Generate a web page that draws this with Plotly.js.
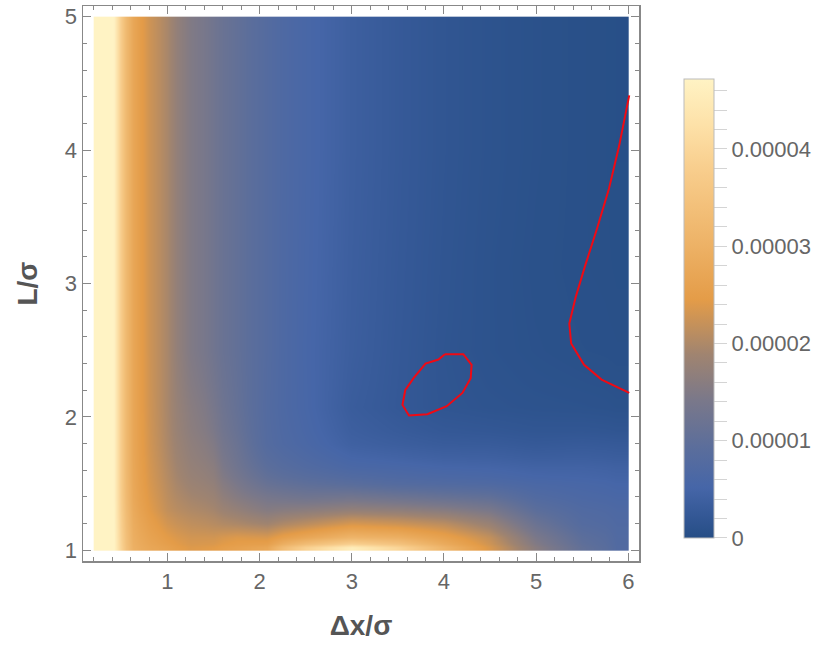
<!DOCTYPE html>
<html>
<head>
<meta charset="utf-8">
<script src="https://cdn.plot.ly/plotly-3.0.1.min.js"></script>
<style>
  html, body { margin: 0; padding: 0; background: #fff; }
  #graph { width: 830px; height: 658px; }
</style>
</head>
<body>
<div id="graph"></div>
<script>
// cell edges of the density map (Δx/σ and L/σ)
var xEdges = [0.2, 0.25, 0.35, 0.45, 0.55, 0.7, 0.9, 1.1, 1.4, 1.6, 1.9, 2.25, 2.75, 3.25, 3.75, 4.25, 4.75, 5.25, 5.75, 6.0];
var yEdges = [1.0, 1.05, 1.15, 1.25, 1.35, 1.45, 1.55, 1.7, 1.9, 2.25, 2.75, 3.5, 4.5, 5.0];

// values in units of 1e-5, one row per y cell (bottom to top)
var UNIT = 1e-5;
var zRows = [
  [9, 7, 4.9, 3.9, 3.0, 2.75, 2.6, 2.4, 2.45, 2.6, 2.74, 3.87, 4.58, 4.0, 3.1, 2.36, 1.6, 1.04, 0.75],
  [9, 7, 4.9, 3.85, 2.95, 2.65, 2.45, 2.3, 2.3, 2.4, 2.36, 2.74, 3.1, 2.97, 2.6, 2.17, 1.42, 0.94, 0.73],
  [9, 7, 4.9, 3.8, 2.9, 2.55, 2.3, 2.15, 2.08, 2.0, 1.89, 2.12, 2.36, 2.27, 2.12, 1.8, 1.18, 0.8, 0.7],
  [9, 7, 4.9, 3.75, 2.85, 2.45, 2.17, 2.02, 1.93, 1.75, 1.56, 1.65, 1.75, 1.7, 1.6, 1.42, 0.94, 0.73, 0.66],
  [9, 7, 4.9, 3.72, 2.8, 2.4, 2.12, 1.92, 1.82, 1.56, 1.37, 1.27, 1.32, 1.23, 1.13, 1.04, 0.75, 0.64, 0.59],
  [9, 7, 4.9, 3.7, 2.78, 2.36, 2.08, 1.83, 1.72, 1.42, 1.13, 0.99, 0.9, 0.8, 0.75, 0.71, 0.61, 0.57, 0.52],
  [9, 7, 4.9, 3.7, 2.76, 2.33, 2.03, 1.75, 1.62, 1.27, 0.94, 0.75, 0.61, 0.57, 0.52, 0.5, 0.45, 0.45, 0.42],
  [9, 7, 4.9, 3.7, 2.75, 2.3, 1.98, 1.68, 1.5, 1.18, 0.8, 0.61, 0.42, 0.36, 0.31, 0.3, 0.26, 0.28, 0.26],
  [9, 7, 4.9, 3.7, 2.75, 2.28, 1.95, 1.6, 1.38, 1.09, 0.78, 0.56, 0.33, 0.24, 0.17, 0.14, 0.12, 0.11, 0.09],
  [9, 7, 4.9, 3.7, 2.75, 2.27, 1.95, 1.5, 1.27, 1.05, 0.8, 0.55, 0.36, 0.25, 0.16, 0.11, 0.08, 0.06, 0.05],
  [9, 7, 4.9, 3.7, 2.75, 2.27, 1.95, 1.5, 1.27, 1.05, 0.8, 0.56, 0.37, 0.26, 0.17, 0.11, 0.07, 0.05, 0.04],
  [9, 7, 4.9, 3.7, 2.75, 2.27, 1.95, 1.5, 1.27, 1.05, 0.8, 0.57, 0.38, 0.27, 0.18, 0.12, 0.08, 0.05, 0.035],
  [9, 7, 4.9, 3.7, 2.75, 2.27, 1.95, 1.5, 1.27, 1.05, 0.8, 0.57, 0.38, 0.27, 0.18, 0.12, 0.08, 0.05, 0.035]
];
var zMax = 4.72;

// red contour curves
var curveRightX = [6.01, 5.90, 5.79, 5.66, 5.53, 5.43, 5.36, 5.38, 5.52, 5.71, 6.01];
var curveRightY = [4.41, 4.03, 3.71, 3.41, 3.13, 2.90, 2.70, 2.55, 2.39, 2.28, 2.18];
var loopX = [4.01, 4.21, 4.30, 4.29, 4.20, 4.03, 3.82, 3.62, 3.55, 3.58, 3.67, 3.80, 3.94, 4.01];
var loopY = [2.47, 2.47, 2.39, 2.29, 2.18, 2.08, 2.02, 2.01, 2.09, 2.20, 2.29, 2.40, 2.43, 2.47];

// colour bar ticks
var cbTicks = [];
var cbText = [];
for (var t = 0; t <= 23; t++) {
  cbTicks.push(t * 0.2 * UNIT);
  cbText.push('');
}
var cbLabels = ['0', '0.00001', '0.00002', '0.00003', '0.00004'];
for (var k = 0; k < cbLabels.length; k++) cbText[k * 5] = cbLabels[k];

var z = zRows.map(function(r){ return r.map(function(v){ return v * UNIT; }); });

var font = 'Liberation Sans, Arial, sans-serif';
var grey = '#888888';

var heat = {
  type: 'heatmap',
  x: xEdges,
  y: yEdges,
  z: z,
  zmin: 0,
  zmax: zMax * UNIT,
  zsmooth: 'best',
  colorscale: [
    [0, 'rgb(38,78,133)'],
    [0.05, 'rgb(52,88,150)'],
    [0.11, 'rgb(70,102,168)'],
    [0.2, 'rgb(92,110,155)'],
    [0.3, 'rgb(122,120,138)'],
    [0.4, 'rgb(160,132,112)'],
    [0.52, 'rgb(228,156,72)'],
    [0.65, 'rgb(238,180,105)'],
    [0.8, 'rgb(248,205,140)'],
    [0.9, 'rgb(253,225,168)'],
    [1, 'rgb(255,243,196)']
  ],
  colorbar: {
    thickness: 30,
    len: 459, lenmode: 'pixels',
    x: 1.081, xanchor: 'left', xpad: 0,
    y: 0.455, yanchor: 'middle', ypad: 0,
    outlinewidth: 1, outlinecolor: '#bbbbbb',
    ticks: 'outside', ticklen: 13, tickcolor: '#d4d4d4',
    tickmode: 'array', tickvals: cbTicks, ticktext: cbText,
    tickfont: {family: font, size: 22, color: '#666666'}
  },
  hoverinfo: 'skip'
};

var redLine = {color: 'rgb(240,10,20)', width: 2};
var right = {type: 'scatter', mode: 'lines', x: curveRightX, y: curveRightY, line: redLine, showlegend: false, hoverinfo: 'skip'};
var loop = {type: 'scatter', mode: 'lines', x: loopX, y: loopY, line: redLine, showlegend: false, hoverinfo: 'skip'};

function frameAxis(extra) {
  var a = {
    showline: true, linecolor: grey, linewidth: 1.5, mirror: 'ticks',
    ticks: 'inside', ticklen: 8, tickwidth: 1, tickcolor: grey,
    minor: {dtick: 0.2, tick0: 0, ticks: 'inside', ticklen: 4, tickcolor: grey, showgrid: false},
    showgrid: false, zeroline: false,
    tickfont: {family: font, size: 22, color: '#666666'}
  };
  for (var k in extra) a[k] = extra[k];
  return a;
}

var layout = {
  width: 830, height: 658,
  margin: {l: 83, r: 191, t: 6, b: 97},
  paper_bgcolor: '#ffffff', plot_bgcolor: '#ffffff',
  showlegend: false,
  xaxis: frameAxis({
    range: [0.084, 6.116],
    tickmode: 'array', tickvals: [1, 2, 3, 4, 5, 6],
    title: {text: '<b>Δx/σ</b>', font: {family: font, size: 28, color: '#555555'}, standoff: 22}
  }),
  yaxis: frameAxis({
    range: [0.92, 5.08],
    tickmode: 'array', tickvals: [1, 2, 3, 4, 5],
    title: {text: '<b>L/σ</b>', font: {family: font, size: 28, color: '#555555'}, standoff: 19}
  })
};

Plotly.newPlot('graph', [heat, right, loop], layout, {displayModeBar: false, staticPlot: true});
</script>
</body>
</html>
